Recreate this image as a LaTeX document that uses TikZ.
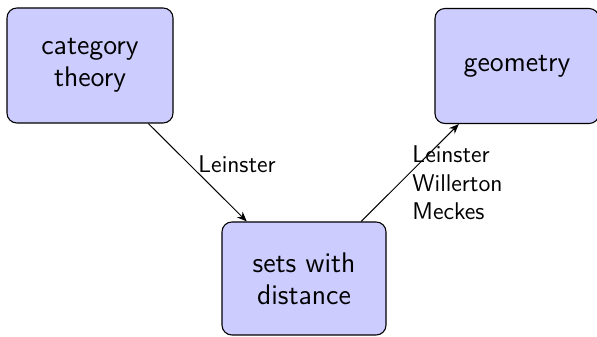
\documentclass[tikz,border=0pt]{standalone}
\usepackage{fontspec}
\usetikzlibrary{arrows.meta}
\tikzset{
  topic/.style={draw=black, line width=0.5pt, fill=blue!20, rounded corners=4.5pt,
    align=center, inner sep=0pt, font=\sffamily\fontsize{12.9}{14.6}\selectfont},
  link/.style={-{Stealth[length=4.5pt,width=3.6pt]}, line width=0.45pt},
  lab/.style={anchor=west, align=left, inner sep=0pt, font=\sffamily\fontsize{11}{12.9}\selectfont}
}
\begin{document}
\begin{tikzpicture}[x=0.4545pt,y=-0.4545pt]
\useasboundingbox (0,0) rectangle (597,337);
\node[topic, minimum width=166*0.4545pt, minimum height=115*0.4545pt] (ct) at (90,65.5) {category\\theory};
\node[topic, minimum width=164*0.4545pt, minimum height=115*0.4545pt] (geo) at (517,66) {geometry};
\node[topic, minimum width=164*0.4545pt, minimum height=113*0.4545pt] (sets) at (304,278.5) {sets with\\distance};
\draw[link] (ct) -- (sets);
\draw[link] (sets) -- (geo);
\node[lab] (l1) at (198,164) {Leinster};
\node[lab] (l2) at (412,183) {Leinster\\Willerton\\Meckes};
\end{tikzpicture}
\end{document}
